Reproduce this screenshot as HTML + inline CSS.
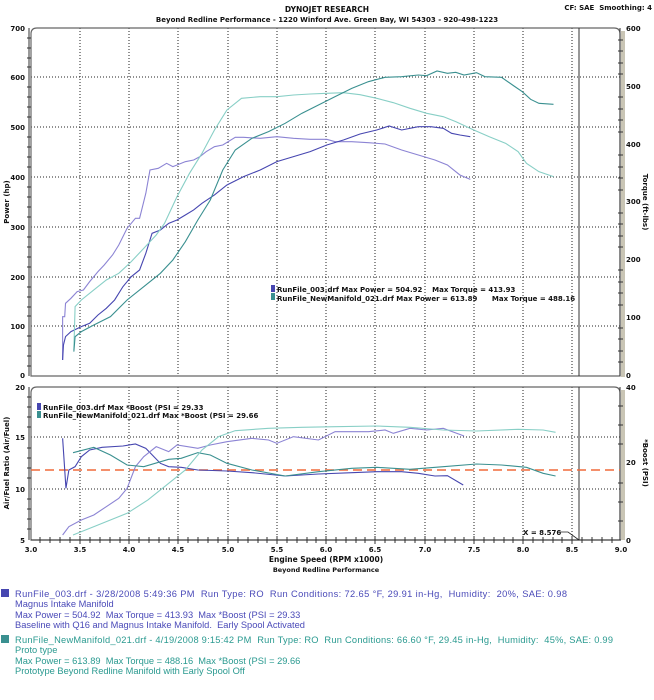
<!DOCTYPE html><html><head><meta charset="utf-8"><style>
body{margin:0;width:654px;height:700px;background:#fff;overflow:hidden;font-family:"Liberation Sans",sans-serif}
svg{position:absolute;left:0;top:0}
text{white-space:pre}
.t{font-family:"DejaVu Sans","Liberation Sans",sans-serif;font-weight:bold;font-size:7px;fill:#111}
.b{font-family:"Liberation Sans",sans-serif;font-size:9.3px}
</style></head><body>
<svg width="654" height="700" viewBox="0 0 654 700" xml:space="preserve">
<text x="327" y="12" text-anchor="middle" class="t" style="font-size:7.5px">DYNOJET RESEARCH</text>
<text x="327" y="22" text-anchor="middle" class="t" style="font-size:7px">Beyond Redline Performance - 1220 Winford Ave. Green Bay, WI 54303 - 920-498-1223</text>
<text x="652" y="10" text-anchor="end" class="t" style="font-size:7px">CF: SAE  Smoothing: 4</text>

<rect x="621" y="31" width="4" height="346" fill="#c9c5b5"/>
<g stroke="#222" stroke-width="1" stroke-dasharray="1,2" fill="none">
<path d="M80 28V376M129 28V376M178 28V376M228 28V376M277 28V376M326 28V376M375 28V376M425 28V376M474 28V376M523 28V376M572 28V376"/>
<path d="M31 77H621M31 127H621M31 177H621M31 227H621M31 277H621M31 326H621"/>
<path d="M80 387V540M129 387V540M178 387V540M228 387V540M277 387V540M326 387V540M375 387V540M425 387V540M474 387V540M523 387V540M572 387V540"/>
<path d="M31 437H621M31 489H621"/>
</g>
<path d="M31 376V34Q31 28 37 28H614Q620 28 620 34V376Z" fill="none" stroke="#666" stroke-width="1.2"/>
<line x1="579" y1="28" x2="579" y2="376" stroke="#333" stroke-width="1"/>
<g stroke="#333" stroke-width="1">
<path d="M29 28V376M620 28V376"/>
<path d="M27 38h4M27 48h4M27 58h4M27 67h4M27 87h4M27 97h4M27 107h4M27 117h4M27 137h4M27 147h4M27 157h4M27 167h4M27 187h4M27 197h4M27 207h4M27 217h4M27 237h4M27 247h4M27 257h4M27 267h4M27 287h4M27 297h4M27 307h4M27 316h4M27 336h4M27 346h4M27 356h4M27 366h4"/>
<path d="M618 40h5M618 51h5M618 63h5M618 74h5M618 97h5M618 109h5M618 120h5M618 132h5M618 155h5M618 167h5M618 178h5M618 190h5M618 213h5M618 224h5M618 236h5M618 247h5M618 270h5M618 282h5M618 293h5M618 305h5M618 328h5M618 339h5M618 351h5M618 362h5"/>
</g>
<g class="t" text-anchor="end">
<text x="25" y="31">700</text><text x="25" y="80">600</text><text x="25" y="130">500</text><text x="25" y="180">400</text><text x="25" y="230">300</text><text x="25" y="280">200</text><text x="25" y="329">100</text><text x="25" y="378">0</text>
</g>
<g class="t">
<text x="626" y="31">600</text><text x="626" y="89">500</text><text x="626" y="147">400</text><text x="626" y="204">300</text><text x="626" y="262">200</text><text x="626" y="320">100</text><text x="626" y="378">0</text>
</g>
<text class="t" transform="translate(9,202) rotate(-90)" text-anchor="middle">Power (hp)</text>
<text class="t" transform="translate(643,202) rotate(90)" text-anchor="middle">Torque (ft-lbs)</text>

<g transform="matrix(0.416 0 0 0.3333 2.3 60)" fill="none">
<polyline vector-effect="non-scaling-stroke" stroke-width="1.1" stroke="#8c84d4" points="145,900 145,770 150,770 152,730 165,715 180,695 195,690 210,665 230,635 245,615 265,585 280,555 300,505 320,475 330,475 335,450 345,400 355,330 375,325 395,310 410,320 420,315 440,305 460,300 475,290 490,275 510,260 530,255 560,232 580,232 620,235 660,230 700,235 740,238 780,238 800,245 840,245 880,248 920,252 960,270 1000,285 1040,300 1070,315 1100,345 1125,358"/>
<polyline vector-effect="non-scaling-stroke" stroke-width="1.1" stroke="#4646b0" points="145,900 147,855 152,830 165,815 190,800 210,790 230,765 250,745 270,720 290,680 310,650 330,630 345,580 360,520 380,510 400,490 420,480 440,465 460,450 480,430 510,405 540,375 580,350 620,330 660,305 700,290 740,275 780,255 820,240 860,222 900,210 930,198 960,210 1000,200 1030,200 1060,205 1080,220 1100,225 1125,230"/>
<polyline vector-effect="non-scaling-stroke" stroke-width="1.1" stroke="#88cfc6" points="172,870 175,740 190,720 220,690 250,660 280,640 310,605 340,565 370,525 390,490 420,410 450,340 480,280 510,210 540,150 575,115 620,110 660,110 700,105 740,102 780,100 820,98 860,104 900,115 940,128 980,145 1020,160 1060,170 1090,185 1130,208 1170,230 1210,250 1240,275 1260,310 1290,335 1325,350"/>
<polyline vector-effect="non-scaling-stroke" stroke-width="1.1" stroke="#3a9090" points="172,875 175,830 190,815 220,795 260,770 300,720 340,680 380,640 410,600 440,545 470,480 500,420 530,330 560,270 600,235 640,215 680,190 720,160 760,135 800,110 840,85 880,65 920,52 960,50 1000,45 1020,47 1045,33 1070,40 1090,37 1110,45 1140,38 1160,50 1200,52 1230,78 1250,95 1270,118 1290,130 1325,133"/>
</g>
<rect x="271" y="285" width="4" height="7" fill="#4646b0"/>
<rect x="271" y="293" width="4" height="7" fill="#3a9090"/>
<text class="t" x="277" y="292">RunFile_003.drf Max Power = 504.92    Max Torque = 413.93</text>
<text class="t" x="277" y="301">RunFile_NewManifold_021.drf Max Power = 613.89      Max Torque = 488.16</text>

<rect x="621" y="390" width="4" height="150" fill="#c9c5b5"/>
<path d="M31 540V393Q31 387 37 387H614Q620 387 620 393V540Z" fill="none" stroke="#666" stroke-width="1.2"/>
<line x1="579" y1="387" x2="579" y2="540" stroke="#333"/>
<g stroke="#333" stroke-width="1">
<path d="M29 387V540M620 387V540M31 540H621"/>
<path d="M27 397h4M27 407h4M27 417h4M27 427h4M27 448h4M27 458h4M27 468h4M27 478h4M27 499h4M27 509h4M27 519h4M27 529h4"/>
<path d="M618 406h5M618 425h5M618 444h5M618 483h5M618 502h5M618 521h5"/>
<path d="M40 537v6M50 537v6M60 537v6M70 537v6M90 537v6M100 537v6M110 537v6M120 537v6M139 537v6M149 537v6M159 537v6M169 537v6M188 537v6M198 537v6M208 537v6M218 537v6M238 537v6M248 537v6M258 537v6M267 537v6M287 537v6M297 537v6M307 537v6M316 537v6M336 537v6M346 537v6M356 537v6M365 537v6M385 537v6M395 537v6M405 537v6M415 537v6M435 537v6M445 537v6M455 537v6M464 537v6M484 537v6M494 537v6M504 537v6M513 537v6M533 537v6M543 537v6M553 537v6M562 537v6M582 537v6M592 537v6M602 537v6M612 537v6M80 536v8M129 536v8M178 536v8M228 536v8M277 536v8M326 536v8M375 536v8M425 536v8M474 536v8M523 536v8M572 536v8"/>
</g>
<line x1="31" y1="470" x2="620" y2="470" stroke="#f06a3a" stroke-width="1.5" stroke-dasharray="9,5"/>
<g transform="matrix(0.416 0 0 0.3333 2.3 370)" fill="none">
<polyline vector-effect="non-scaling-stroke" stroke-width="1.1" stroke="#4646b0" points="145,205 153,355 160,300 175,290 190,260 210,240 240,232 290,228 320,222 345,235 380,280 400,290 430,292 470,300 540,303 600,308 680,318 760,312 840,308 900,305 960,305 1000,310 1040,318 1070,317 1108,345"/>
<polyline vector-effect="non-scaling-stroke" stroke-width="1.1" stroke="#8c84d4" points="145,495 160,470 190,450 220,435 250,410 280,385 300,355 320,290 340,260 370,230 400,245 420,225 470,235 500,225 540,215 600,205 640,210 660,220 700,200 760,210 800,185 880,185 920,180 940,190 980,175 1020,180 1060,175 1110,198"/>
<polyline vector-effect="non-scaling-stroke" stroke-width="1.1" stroke="#3a9090" points="170,248 220,232 260,255 300,285 340,290 400,268 430,265 470,248 500,255 540,280 600,300 680,318 760,305 840,295 900,292 980,298 1060,290 1140,282 1200,285 1260,292 1300,310 1330,318"/>
<polyline vector-effect="non-scaling-stroke" stroke-width="1.1" stroke="#88cfc6" points="170,495 230,465 300,430 350,390 400,340 440,300 480,240 520,200 560,182 640,175 720,172 800,170 900,168 980,172 1060,180 1140,183 1240,178 1300,180 1330,187"/>
</g>
<g class="t" text-anchor="end">
<text x="25" y="390">20</text><text x="25" y="440">15</text><text x="25" y="492">10</text><text x="25" y="543">5</text>
</g>
<g class="t"><text x="626" y="390">40</text><text x="626" y="465">20</text><text x="626" y="543">0</text></g>
<text class="t" transform="translate(9,463) rotate(-90)" text-anchor="middle">Air/Fuel Ratio (Air/Fuel)</text>
<text class="t" transform="translate(643,463) rotate(90)" text-anchor="middle">*Boost (PSI)</text>
<rect x="37" y="403" width="4" height="7" fill="#4646b0"/>
<rect x="37" y="411" width="4" height="7" fill="#3a9090"/>
<text class="t" x="43" y="410">RunFile_003.drf Max *Boost (PSI = 29.33</text>
<text class="t" x="43" y="418">RunFile_NewManifold_021.drf Max *Boost (PSI = 29.66</text>
<text class="t" x="523" y="535">X = 8.576</text>
<path d="M559 532L568 532L579 540" fill="none" stroke="#222" stroke-width="0.8"/>
<g class="t" text-anchor="middle">
<text x="31" y="552">3.0</text><text x="80" y="552">3.5</text><text x="129" y="552">4.0</text><text x="178" y="552">4.5</text><text x="228" y="552">5.0</text><text x="277" y="552">5.5</text><text x="326" y="552">6.0</text><text x="375" y="552">6.5</text><text x="425" y="552">7.0</text><text x="474" y="552">7.5</text><text x="523" y="552">8.0</text><text x="572" y="552">8.5</text><text x="621" y="552">9.0</text>
<text x="326" y="562" style="font-size:7.5px">Engine Speed (RPM x1000)</text>
<text x="326" y="572" style="font-size:6.5px">Beyond Redline Performance</text>
</g>

<rect x="1" y="589" width="8" height="8" fill="#4646b0"/>
<g class="b" fill="#4a4ab8">
<text x="15" y="597" textLength="552" lengthAdjust="spacing">RunFile_003.drf - 3/28/2008 5:49:36 PM  Run Type: RO  Run Conditions: 72.65 °F, 29.91 in-Hg,  Humidity:  20%, SAE: 0.98</text>
<text x="15" y="607">Magnus Intake Manifold</text>
<text x="15" y="618">Max Power = 504.92  Max Torque = 413.93  Max *Boost (PSI = 29.33</text>
<text x="15" y="628">Baseline with Q16 and Magnus Intake Manifold.  Early Spool Activated</text>
</g>
<rect x="1" y="635" width="8" height="8" fill="#3a9090"/>
<g class="b" fill="#2a9a90">
<text x="15" y="643" textLength="598" lengthAdjust="spacing">RunFile_NewManifold_021.drf - 4/19/2008 9:15:42 PM  Run Type: RO  Run Conditions: 66.60 °F, 29.45 in-Hg,  Humidity:  45%, SAE: 0.99</text>
<text x="15" y="653">Proto type</text>
<text x="15" y="664">Max Power = 613.89  Max Torque = 488.16  Max *Boost (PSI = 29.66</text>
<text x="15" y="674">Prototype Beyond Redline Manifold with Early Spool Off</text>
</g>
</svg>
</body></html>
